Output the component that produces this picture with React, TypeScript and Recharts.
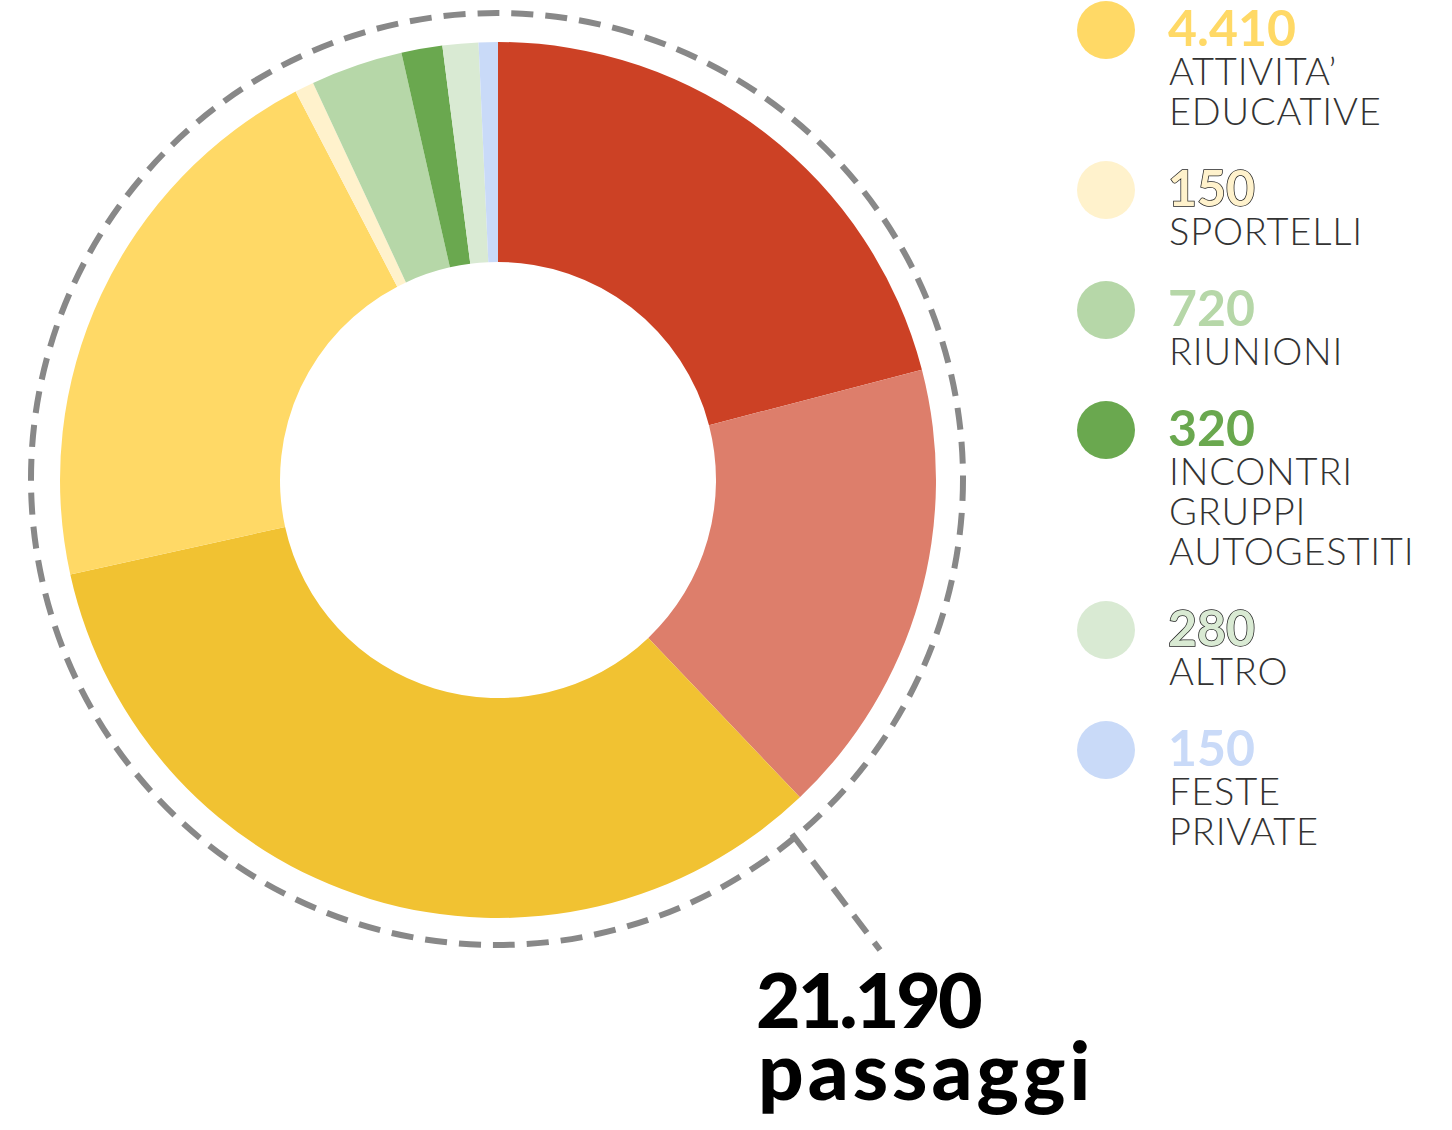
import { PieChart, Pie, Cell } from "recharts";

// slices, clockwise from 12 o'clock
const sliceNames = [
  "Categoria A",
  "Categoria B",
  "Categoria C",
  "Attivita' educative",
  "Sportelli",
  "Riunioni",
  "Incontri gruppi autogestiti",
  "Altro",
  "Feste private"
];
const sliceValues = [4440, 3590, 7130, 4410, 150, 720, 320, 280, 150];
const sliceColors = [
  "#CC4125",
  "#DD7E6B",
  "#F1C232",
  "#FFD966",
  "#FFF2CC",
  "#B6D7A8",
  "#6AA84F",
  "#D9EAD3",
  "#C9DAF8"
];

// legend rows point into the slices above
const legendSlices = [3, 4, 5, 6, 7, 8];
const legendLabels = [
  ["ATTIVITA’", "EDUCATIVE"],
  ["SPORTELLI"],
  ["RIUNIONI"],
  ["INCONTRI", "GRUPPI", "AUTOGESTITI"],
  ["ALTRO"],
  ["FESTE", "PRIVATE"]
];
const legendOutlined = [false, true, false, false, true, false];

const totalLabel = "passaggi";

const fmt = (n: number) => String(n).replace(/\B(?=(\d{3})+(?!\d))/g, ".");

const chartData = sliceNames.map((name, i) => ({
  name,
  value: sliceValues[i],
  color: sliceColors[i]
}));

const total = sliceValues.reduce((a, b) => a + b, 0);

const W = 1452;
const H = 1130;
const CX = 498;
const CY = 480;

function Legend() {
  let y = 30;
  const rows = legendSlices.map((idx, i) => {
    const top = y;
    y += 80 + 40 * legendLabels[i].length;
    return (
      <g key={i}>
        <circle cx={1106} cy={top} r={29} fill={sliceColors[idx]} />
        <text
          x={1168}
          y={top + 16}
          fontFamily="Lato, sans-serif"
          fontWeight={700}
          fontSize={50}
          fill={sliceColors[idx]}
          stroke={legendOutlined[i] ? "#222" : "none"}
          strokeWidth={legendOutlined[i] ? 1.5 : 0}
          paintOrder="stroke"
        >
          {fmt(sliceValues[idx])}
        </text>
        {legendLabels[i].map((line, j) => (
          <text
            key={j}
            x={1169}
            y={top + 55 + j * 40}
            fontFamily="Lato, sans-serif"
            fontWeight={300}
            fontSize={38}
            letterSpacing={0.8}
            fill="#333"
          >
            {line}
          </text>
        ))}
      </g>
    );
  });
  return <>{rows}</>;
}

export default function App() {
  return (
    <div
      style={{
        position: "absolute",
        left: 0,
        top: 0,
        width: W,
        height: H,
        background: "#fff"
      }}
    >
      <PieChart width={W} height={H} margin={{ top: 0, right: 0, bottom: 0, left: 0 }}>
        <Pie
          data={chartData}
          dataKey="value"
          nameKey="name"
          cx={CX}
          cy={CY}
          innerRadius={218}
          outerRadius={438}
          startAngle={90}
          endAngle={-270}
          stroke="none"
          isAnimationActive={false}
        >
          {chartData.map((d, i) => (
            <Cell key={i} fill={d.color} />
          ))}
        </Pie>
      </PieChart>

      {/* dashed ring, leader line, legend, total */}
      <svg
        width={W}
        height={H}
        style={{ position: "absolute", left: 0, top: 0, pointerEvents: "none" }}
      >
        <circle
          cx={497}
          cy={479}
          r={466}
          fill="none"
          stroke="#888"
          strokeWidth={6}
          strokeDasharray="22 12"
        />
        <line
          x1={792}
          y1={834}
          x2={880}
          y2={950}
          stroke="#888"
          strokeWidth={6}
          strokeDasharray="22 12"
        />
        <Legend />
        <text
          x={756}
          y={1028}
          fontFamily="Lato, sans-serif"
          fontWeight={900}
          fontSize={77}
          letterSpacing={-3}
          fill="#000"
        >
          {fmt(total)}
        </text>
        <text
          x={758}
          y={1100}
          fontFamily="Lato, sans-serif"
          fontWeight={900}
          fontSize={80}
          letterSpacing={4}
          fill="#000"
        >
          {totalLabel}
        </text>
      </svg>
    </div>
  );
}
